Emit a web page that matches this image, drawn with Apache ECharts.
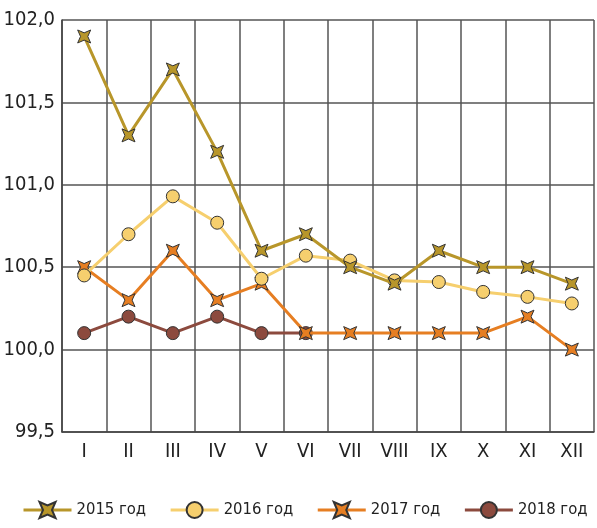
<!DOCTYPE html>
<html><head><meta charset="utf-8">
<script src="https://cdn.jsdelivr.net/npm/echarts@6/dist/echarts.min.js"></script>
<style>html,body{margin:0;padding:0;background:#fff}#c{width:597px;height:528px}</style>
</head><body><div id="c"></div>
<script>
const months = ['I','II','III','IV','V','VI','VII','VIII','IX','X','XI','XII'];
const seriesNames = ['2015 год','2016 год','2017 год','2018 год'];
const y2015 = [101.9,101.3,101.7,101.2,100.6,100.7,100.5,100.4,100.6,100.5,100.5,100.4];
const y2016 = [100.45,100.7,100.93,100.77,100.43,100.57,100.54,100.42,100.41,100.35,100.32,100.28];
const y2017 = [100.5,100.3,100.6,100.3,100.4,100.1,100.1,100.1,100.1,100.1,100.2,100.0];
const y2018 = [100.1,100.2,100.1,100.2,100.1,100.1];
const yMin = 99.5, yMax = 102.0, yStep = 0.5;

const FONT = '"Liberation Sans Narrow","DejaVu Sans Condensed","Roboto Condensed",sans-serif';
const star = 'path://M0,0 L5,2.2 L10,0 L7.8,5 L10,10 L5,7.8 L0,10 L2.2,5 Z';
const colors = ['#b8962a','#f6cf6e','#e67e22','#8c4a3e'];
const data = [y2015,y2016,y2017,y2018];
const symbols = [star,'circle',star,'circle'];
const sizes = [13,13,13,13];

const chart = echarts.init(document.getElementById('c'));
chart.setOption({
  animation:false,
  grid:{left:62,right:3,top:20,bottom:96},
  legend:{
    top:501,left:22,width:590,itemWidth:48,itemHeight:20,itemGap:23,padding:0,
    textStyle:{fontFamily:FONT,fontSize:16.5,color:'#222'},
    lineStyle:{width:3},
    data:seriesNames
  },
  xAxis:{
    type:'category',data:months,boundaryGap:true,
    axisLine:{show:true,lineStyle:{color:'#444',width:1.5}},
    axisTick:{show:false},
    splitLine:{show:true,lineStyle:{color:'#555',width:1.5}},
    axisLabel:{fontFamily:FONT,fontSize:20,color:'#222',margin:10,interval:0}
  },
  yAxis:{
    type:'value',min:yMin,max:yMax,interval:yStep,
    axisLine:{show:true,lineStyle:{color:'#444',width:1.5}},
    axisTick:{show:false},
    splitLine:{show:true,lineStyle:{color:'#555',width:1.5}},
    axisLabel:{fontFamily:FONT,fontSize:20,color:'#222',margin:7,
      formatter:v=>v.toFixed(1).replace('.',',')}
  },
  series:seriesNames.map((n,i)=>({
    name:n,type:'line',data:data[i],symbol:symbols[i],symbolSize:sizes[i],
    showAllSymbol:true,
    lineStyle:{color:colors[i],width:3},
    itemStyle:{color:colors[i],borderColor:'#333',borderWidth:1},
    z:10-i
  }))
});
</script></body></html>
